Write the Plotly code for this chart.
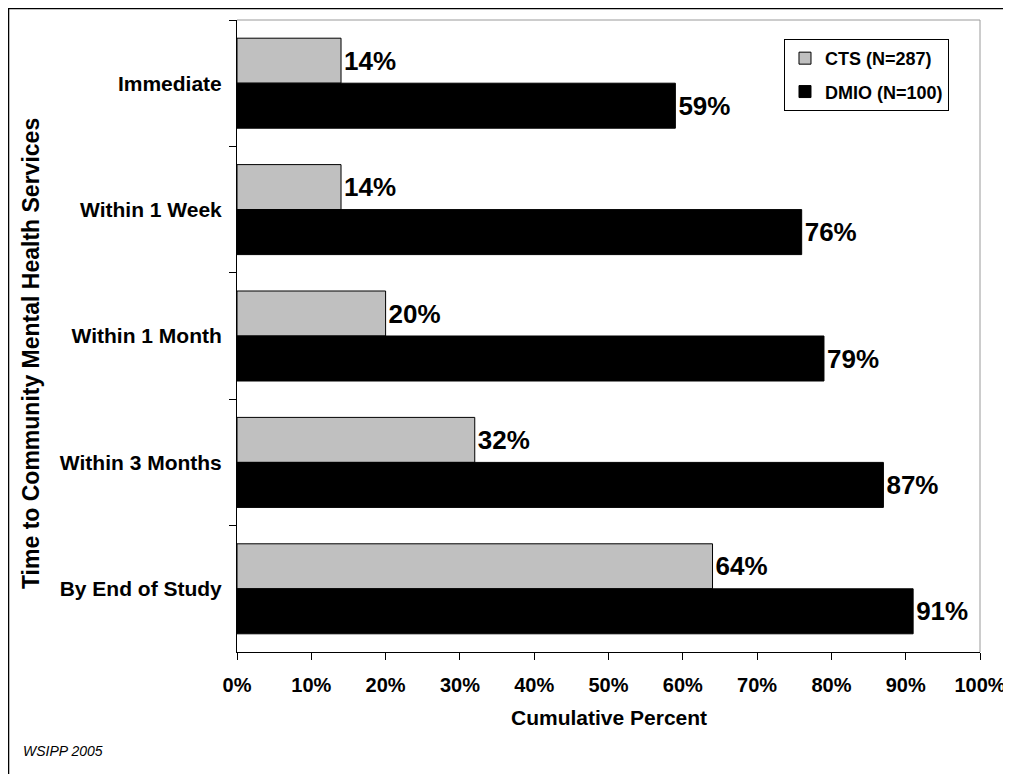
import plotly.graph_objects as go

categories = ["Immediate", "Within 1 Week", "Within 1 Month", "Within 3 Months", "By End of Study"]
cts_pct = [14, 14, 20, 32, 64]
dmio_pct = [59, 76, 79, 87, 91]
x_ticks = list(range(0, 101, 10))
x_tick_labels = [f"{v}%" for v in x_ticks]

FONT = "Liberation Sans, Arial, sans-serif"

fig = go.Figure()

# gray bars on top of each pair, black underneath
fig.add_trace(go.Bar(
    y=categories, x=cts_pct, orientation="h",
    name="CTS (N=287)", legendgroup="cts",
    marker=dict(color="#C0C0C0", line=dict(color="black", width=1)),
    text=[f"{v}%" for v in cts_pct], textposition="outside",
    textfont=dict(family=FONT, size=26, color="black", weight="bold"),
    cliponaxis=False, hoverinfo="skip",
))
fig.add_trace(go.Bar(
    y=categories, x=dmio_pct, orientation="h",
    name="DMIO (N=100)", legendgroup="dmio",
    marker=dict(color="black", line=dict(color="black", width=1)),
    text=[f"{v}%" for v in dmio_pct], textposition="outside",
    textfont=dict(family=FONT, size=26, color="black", weight="bold"),
    cliponaxis=False, hoverinfo="skip",
))

fig.update_layout(
    width=1011, height=774,
    # page body adds 8px, so margins are shifted by that
    margin=dict(l=229, r=39, t=12, b=130),
    paper_bgcolor="white", plot_bgcolor="white",
    barmode="group", bargap=0.288, bargroupgap=0,
    font=dict(family=FONT, color="black"),
    legend=dict(
        x=0.7362, y=0.970, xanchor="left", yanchor="top",
        bordercolor="black", borderwidth=1, bgcolor="white",
        font=dict(family=FONT, size=18, weight="bold"),
        traceorder="grouped", tracegroupgap=7,
    ),
    xaxis=dict(
        range=[0, 100], tickmode="array", tickvals=x_ticks, ticktext=x_tick_labels,
        showgrid=False, zeroline=False,
        showline=True, linecolor="black", linewidth=1,
        ticks="outside", ticklen=7, tickcolor="black",
        tickfont=dict(family=FONT, size=20, weight="bold"),
        ticklabelstandoff=8,
    ),
    yaxis=dict(
        autorange="reversed", showgrid=False, zeroline=False,
        showline=True, linecolor="black", linewidth=1,
        ticks="outside", ticklen=7, tickcolor="black", tickson="boundaries",
        tickfont=dict(family=FONT, size=21, weight="bold"),
        ticklabelstandoff=10,
    ),
)

# gray top/right plot border
fig.add_shape(type="line", xref="paper", yref="paper", x0=0, x1=1, y0=1, y1=1,
              line=dict(color="#9A9A9A", width=1))
fig.add_shape(type="line", xref="paper", yref="paper", x0=1, x1=1, y0=0, y1=1,
              line=dict(color="#9A9A9A", width=1))
# outer black frame (page px 8..1008 wide, top at page y 8)
fig.add_shape(type="rect", xref="paper", yref="paper",
              x0=-0.3075, x1=1.0363, y0=-0.23, y1=1.0182,
              line=dict(color="black", width=1.5), layer="above")

fig.add_annotation(text="Time to Community Mental Health Services",
                   xref="paper", yref="paper", x=-0.2773, y=0.473,
                   xanchor="center", yanchor="middle",
                   textangle=-90, showarrow=False,
                   font=dict(family=FONT, size=23, weight="bold"))
fig.add_annotation(text="Cumulative Percent",
                   xref="paper", yref="paper", x=0.5, y=-0.1044,
                   xanchor="center", yanchor="middle", showarrow=False,
                   font=dict(family=FONT, size=21, weight="bold"))
fig.add_annotation(text="<i>WSIPP 2005</i>",
                   xref="paper", yref="paper", x=(21 - 237) / 743, y=(652 - 751) / 632,
                   xanchor="left", yanchor="middle", showarrow=False,
                   font=dict(family=FONT, size=14))

fig.write_html("out.html")
